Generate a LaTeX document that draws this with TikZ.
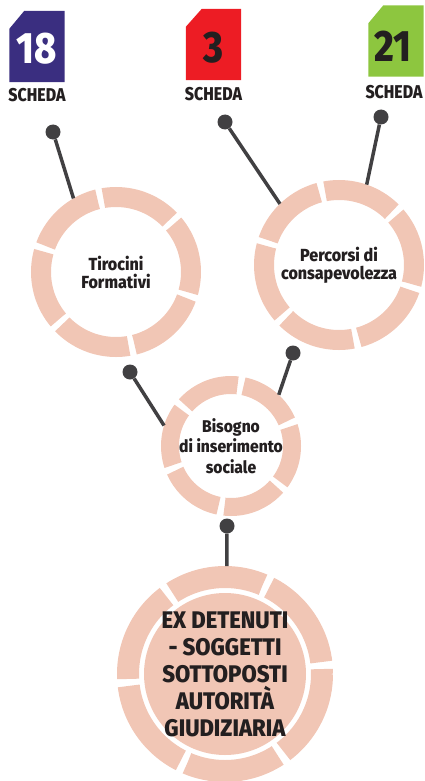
\documentclass[tikz,border=0pt]{standalone}
\usepackage{fontspec}
\newfontfamily\condfont{Fira Sans ExtraBold}[FakeStretch=0.92]
\newfontfamily\tightfont{Fira Sans ExtraBold}[FakeStretch=0.86]
\usepackage{xcolor}
\definecolor{ring-pink}{RGB}{241,198,181}
\definecolor{link-gray}{RGB}{65,64,66}
\definecolor{scheda-ink}{RGB}{35,31,32}
\definecolor{scheda-purple}{RGB}{58,46,128}
\definecolor{scheda-red}{RGB}{237,28,36}
\definecolor{scheda-green}{RGB}{141,198,63}
\usepackage{tikz}
\usetikzlibrary{positioning}

\begin{document}
\begin{tikzpicture}[
    x=1pt, y=-1pt,
    every node/.style={inner sep=0pt},
    badge/.style={minimum width=55pt, minimum height=71pt},
    number/.style={font=\tightfont\fontsize{44}{44}\selectfont, text=scheda-ink},
    scheda/.style={font=\tightfont\fontsize{18.5}{18}\selectfont, text=scheda-ink},
    dot/.style={circle, fill=link-gray, minimum size=15pt},
    link/.style={draw=link-gray, line width=3.5pt},
    ring/.style={circle, draw=ring-pink, align=center, text=scheda-ink,
        font=\condfont\fontsize{17.5}{18}\selectfont}
]

\useasboundingbox (0,0) rectangle (424,781);

% Scheda badges
\node[badge] (b18) at (37,46.5) {};
\node[badge] (b3) at (213.5,44.5) {};
\node[badge] (b21) at (396,41) {};

\fill[scheda-purple] (b18.south west) -- ([yshift=-18pt]b18.north west)
    -- ([xshift=15pt]b18.north west) -- (b18.north east) -- (b18.south east) -- cycle;
\fill[scheda-red] (b3.south west) -- ([yshift=-18pt]b3.north west)
    -- ([xshift=16pt]b3.north west) -- (b3.north east) -- (b3.south east) -- cycle;
\fill[scheda-green] (b21.south west) -- ([yshift=-18pt]b21.north west)
    -- ([xshift=15pt]b21.north west) -- (b21.north east) -- (b21.south east) -- cycle;

\node[number, text=white] (n18) at ([yshift=-2.5pt]b18.center) {18};
\node[number] (n3) at ([yshift=-3.5pt]b3.center) {3};
\node[number] (n21) at ([xshift=-3pt, yshift=-5pt]b21.center) {21};

\node[scheda, below=6pt of b18] (s18) {SCHEDA};
\node[scheda, below=7pt of b3] (s3) {SCHEDA};
\node[scheda, below=8pt of b21, xshift=-2pt] (s21) {SCHEDA};

% Rings
\node[ring, minimum size=150pt, line width=20pt,
    dash pattern=on 72.54pt off 6pt, dash phase=20.56pt]
    (tiro) at (116,272) {Tirocini\\Formativi};
\node[ring, minimum size=150pt, line width=20pt,
    dash pattern=on 72.54pt off 6pt, dash phase=19.25pt]
    (perc) at (339,265) {Percorsi di\\consapevolezza};
\node[ring, minimum size=122pt, line width=18pt,
    dash pattern=on 57.88pt off 6pt, dash phase=38.52pt,
    font=\condfont\fontsize{17}{20.5}\selectfont]
    (biso) at (231,446) {Bisogno\\di inserimento\\sociale};

% Target group: filled disc inside the ring
\fill[ring-pink] (225,674) circle (81pt);
\node[ring, minimum size=194pt, line width=22pt,
    dash pattern=on 94.58pt off 7pt, dash phase=89.62pt,
    font=\condfont\fontsize{24}{27}\selectfont]
    (ex) at (225,674) {EX DETENUTI\\- SOGGETTI\\SOTTOPOSTI\\AUTORITÀ\\GIUDIZIARIA};

% Connectors
\node[dot] (d18) at (53,132) {};
\node[dot] (d3) at (225,122) {};
\node[dot] (d21) at (381,117) {};
\node[dot] (dtiro) at (130,372) {};
\node[dot] (dperc) at (293,353) {};
\node[dot] (dbiso) at (227,526) {};

\draw[link] (d18) -- (tiro.120);
\draw[link] (d3) -- (perc.134);
\draw[link] (d21) -- (perc.71);
\draw[link] (dtiro) -- (biso.163);
\draw[link] (dperc) -- (biso.47);
\draw[link] (dbiso) -- (ex.89);

\end{tikzpicture}
\end{document}
